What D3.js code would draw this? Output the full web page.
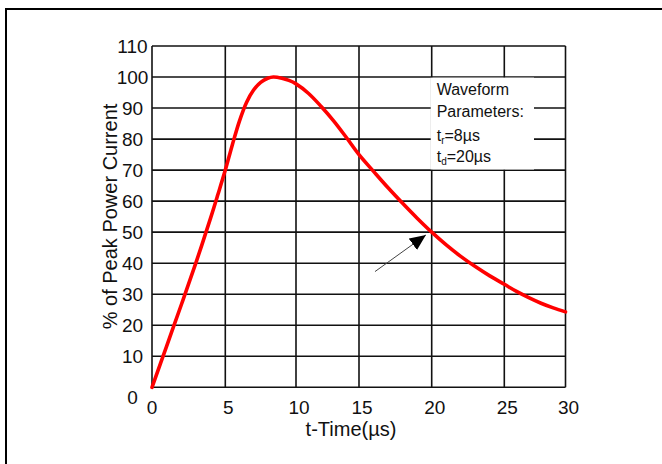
<!DOCTYPE html>
<html>
<head>
<meta charset="utf-8">
<script src="https://cdn.jsdelivr.net/npm/d3@7"></script>
<style>
  body{margin:0;background:#fff;}
  text{font-family:"Liberation Sans",Arial,sans-serif;fill:#111;}
</style>
</head>
<body>
<div id="container"></div>
<script>
// values
var times   = [0, 1, 2, 3, 4, 4.5, 5, 5.5, 6, 6.5, 7, 7.5, 8, 8.4, 9, 9.5, 10, 11, 12, 13, 14, 15, 16, 17, 18, 19, 20, 21, 22, 23, 24, 25, 26, 27, 28, 29, 30];
var percent = [0, 13.3, 26.6, 40.2, 54.6, 62.2, 70, 78.2, 85.8, 91.8, 95.8, 98.3, 99.6, 100, 99.6, 98.9, 97.8, 94.7, 90.5, 85.8, 80.5, 75, 69.6, 64.3, 59.3, 54.5, 50, 45.9, 42.2, 38.9, 35.9, 33.2, 30.9, 28.9, 27.1, 25.6, 24.3];
var xTicks = [0, 5, 10, 15, 20, 25, 30];
var yTicks = [0, 10, 20, 30, 40, 50, 60, 70, 80, 90, 100, 110];
var boxTitle = ["Waveform", "Parameters:"];
var paramSubs = ["r", "d"], paramVals = ["=8\u00b5s", "=20\u00b5s"];
var arrowFrom = [16.1, 37.3], arrowTo = [19.6, 49.1];

var width = 662, height = 464;

document.addEventListener('DOMContentLoaded', function(){
  var svg = d3.select("#container").append("svg")
    .attr("width", width).attr("height", height);

  // page frame, only top and left edges are inside the picture
  svg.append("path").attr("d", "M6,470 L6,9 L670,9")
    .attr("fill", "none").attr("stroke", "#000").attr("stroke-width", 2);

  // the printed grid is not evenly spaced, so the x scale is piecewise
  var x = d3.scaleLinear().domain(xTicks)
      .range([152, 225.3, 296, 359, 431.7, 504.3, 565.5]),
    y = d3.scaleLinear().domain([0, 110]).range([387.3, 46]);

  var grid = svg.append("g").attr("stroke", "#111").attr("stroke-width", 1.6);
  grid.selectAll("line.v").data(xTicks).enter().append("line")
    .attr("x1", function(d){ return x(d); }).attr("x2", function(d){ return x(d); })
    .attr("y1", y(0)).attr("y2", y(110));
  grid.selectAll("line.h").data(yTicks).enter().append("line")
    .attr("x1", x(0)).attr("x2", x(30))
    .attr("y1", function(d){ return y(d); }).attr("y2", function(d){ return y(d); });

  // white box for the parameters, it hides the grid behind it
  svg.append("rect")
    .attr("x", x(20) - 1).attr("y", y(100) + 0.6)
    .attr("width", 534 - x(20) + 1).attr("height", y(70) - y(100) - 1.2)
    .attr("fill", "#fff");

  var box = svg.append("g").attr("font-size", 16);
  box.selectAll("text.title").data(boxTitle).enter().append("text")
    .attr("x", x(20) + 5).attr("y", function(d, i){ return 95 + i * 22; })
    .text(function(d){ return d; });
  var par = box.selectAll("text.par").data(paramSubs).enter().append("text")
    .attr("x", x(20) + 5).attr("y", function(d, i){ return 141 + i * 21; });
  par.append("tspan").text("t");
  par.append("tspan").attr("font-size", 10).attr("dy", 3).text(function(d){ return d; });
  par.append("tspan").attr("dy", -3).text(function(d, i){ return paramVals[i]; });

  // the waveform
  var line = d3.line()
    .x(function(d){ return x(d[0]); })
    .y(function(d){ return y(d[1]); })
    .curve(d3.curveCatmullRom.alpha(0.5));
  svg.append("path").datum(d3.zip(times, percent))
    .attr("d", line)
    .attr("fill", "none").attr("stroke", "#f00").attr("stroke-width", 3.6)
    .attr("stroke-linecap", "round").attr("stroke-linejoin", "round");

  // arrow pointing at the 50% point
  svg.append("defs").append("marker")
    .attr("id", "head").attr("markerUnits", "userSpaceOnUse")
    .attr("markerWidth", 17).attr("markerHeight", 14)
    .attr("refX", 16).attr("refY", 7).attr("orient", "auto")
    .append("path").attr("d", "M0,0 L16,7 L0,14 Z").attr("fill", "#000");
  svg.append("line")
    .attr("x1", x(arrowFrom[0])).attr("y1", y(arrowFrom[1]))
    .attr("x2", x(arrowTo[0])).attr("y2", y(arrowTo[1]))
    .attr("stroke", "#444").attr("stroke-width", 1)
    .attr("marker-end", "url(#head)");

  // tick labels
  svg.selectAll("text.yl").data(yTicks).enter().append("text")
    .attr("font-size", 19).attr("text-anchor", "middle")
    .attr("x", 132.5)
    .attr("y", function(d){ return y(d) + (d === 0 ? 9.4 : 0); })
    .attr("dy", "0.36em")
    .text(function(d){ return d; });
  svg.selectAll("text.xl").data(xTicks).enter().append("text")
    .attr("font-size", 19).attr("text-anchor", "middle")
    .attr("x", function(d){ return x(d) + (d === 0 ? 0 : 3); })
    .attr("y", 414)
    .text(function(d){ return d; });

  // axis titles
  svg.append("text").attr("font-size", 20).attr("text-anchor", "middle")
    .attr("x", 351).attr("y", 436)
    .text("t-Time(\u00b5s)");
  svg.append("text").attr("font-size", 20).attr("text-anchor", "middle")
    .attr("transform", "translate(117,216.5) rotate(-90)")
    .text("% of Peak Power Current");
});
</script>
</body>
</html>
